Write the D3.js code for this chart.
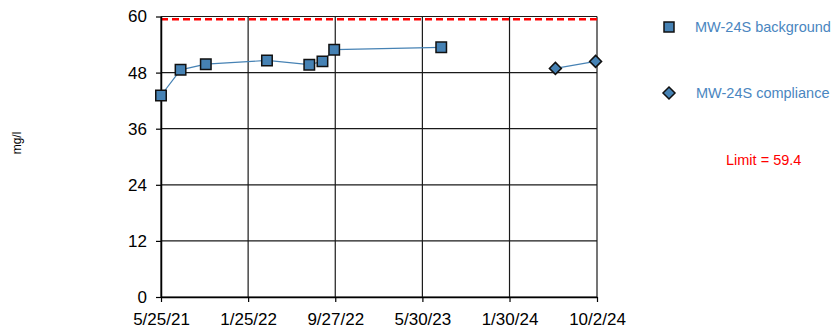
<!DOCTYPE html>
<html>
<head>
<meta charset="utf-8">
<script src="https://cdn.jsdelivr.net/npm/d3@7"></script>
<style>
  body { margin: 0; background: #fff; }
  svg { font-family: "Liberation Sans", Arial, sans-serif; }
</style>
</head>
<body>
<div id="chart"></div>
<script>
// data
var backgroundDates = ['2021-05-25', '2021-07-19', '2021-09-28', '2022-03-19', '2022-07-16', '2022-08-22', '2022-09-24', '2023-07-22'];
var backgroundValues = [43.1, 48.6, 49.8, 50.6, 49.7, 50.4, 52.9, 53.4];
var complianceDates = ['2024-06-07', '2024-09-28'];
var complianceValues = [48.9, 50.4];
var xTickDates = ['2021-05-25', '2022-01-25', '2022-09-27', '2023-05-30', '2024-01-30', '2024-10-02'];
var yTicks = [0, 12, 24, 36, 48, 60];
var limitValue = 59.4;
var seriesNames = ['MW-24S background', 'MW-24S compliance'];

var parse = d3.timeParse('%Y-%m-%d');
var fmt = function(d) { return (d.getMonth() + 1) + '/' + d.getDate() + '/' + String(d.getFullYear()).slice(2); };

var width = 836, height = 330;
var plot = { left: 161, right: 597, top: 16.5, bottom: 297 };
var blue = '#4682b4';

var svg = d3.select('#chart').append('svg')
    .attr('width', width)
    .attr('height', height);

var x = d3.scaleTime()
    .domain([parse(xTickDates[0]), parse(xTickDates[xTickDates.length - 1])])
    .range([plot.left, plot.right]);
var y = d3.scaleLinear()
    .domain([0, 60])
    .range([plot.bottom, plot.top]);

var bg = backgroundDates.map(function(d, i) { return { date: parse(d), value: backgroundValues[i] }; });
var cp = complianceDates.map(function(d, i) { return { date: parse(d), value: complianceValues[i] }; });

// gridlines
var g = svg.append('g');
g.selectAll('line.hgrid').data(yTicks).enter().append('line')
    .attr('x1', plot.left).attr('x2', plot.right)
    .attr('y1', function(d) { return y(d); }).attr('y2', function(d) { return y(d); })
    .attr('stroke', '#1a1a1a').attr('stroke-width', 1.2);
g.selectAll('line.vgrid').data(xTickDates.map(parse)).enter().append('line')
    .attr('x1', function(d) { return x(d); }).attr('x2', function(d) { return x(d); })
    .attr('y1', plot.top).attr('y2', plot.bottom)
    .attr('stroke', '#1a1a1a').attr('stroke-width', 1.2);

// limit line
svg.append('line')
    .attr('x1', plot.left).attr('x2', plot.right)
    .attr('y1', y(limitValue)).attr('y2', y(limitValue))
    .attr('stroke', '#ff0000').attr('stroke-width', 2.5)
    .attr('stroke-dasharray', '7,4');

// axes
var yAxis = svg.append('g')
    .attr('transform', 'translate(' + plot.left + ',0)')
    .call(d3.axisLeft(y).tickValues(yTicks).tickSize(5).tickSizeOuter(0).tickPadding(9));
var xAxis = svg.append('g')
    .attr('transform', 'translate(0,' + plot.bottom + ')')
    .call(d3.axisBottom(x).tickValues(xTickDates.map(parse)).tickFormat(fmt).tickSize(5).tickSizeOuter(0).tickPadding(11));
[yAxis, xAxis].forEach(function(a) {
    a.select('.domain').attr('stroke', '#000').attr('stroke-width', 1.5);
    a.selectAll('.tick line').attr('stroke', '#000').attr('stroke-width', 1.2);
    a.selectAll('text').attr('fill', '#000').style('font-size', '17px').style('font-family', '"Liberation Sans", Arial, sans-serif');
});

// y label
svg.append('text')
    .attr('transform', 'translate(21,143) rotate(-90)')
    .attr('text-anchor', 'middle')
    .style('font-size', '12px')
    .attr('fill', '#000')
    .text('mg/l');

// series lines
var line = d3.line()
    .x(function(d) { return x(d.date); })
    .y(function(d) { return y(d.value); });
[bg, cp].forEach(function(data) {
    svg.append('path').datum(data)
        .attr('fill', 'none')
        .attr('stroke', blue)
        .attr('stroke-width', 1.2)
        .attr('d', line);
});

var square = d3.symbol().type(d3.symbolSquare).size(110);
var diamond = function(cx, cy) {
    var r = 6;
    return 'M' + cx + ',' + (cy - r) + 'L' + (cx + r) + ',' + cy + 'L' + cx + ',' + (cy + r) + 'L' + (cx - r) + ',' + cy + 'Z';
};

svg.selectAll('path.bgpt').data(bg).enter().append('path')
    .attr('d', square)
    .attr('transform', function(d) { return 'translate(' + x(d.date) + ',' + y(d.value) + ')'; })
    .attr('fill', blue).attr('stroke', '#111').attr('stroke-width', 1.5);

svg.selectAll('path.cppt').data(cp).enter().append('path')
    .attr('d', function(d) { return diamond(x(d.date), y(d.value)); })
    .attr('fill', blue).attr('stroke', '#111').attr('stroke-width', 1.5);

// legend
svg.append('path')
    .attr('d', d3.symbol().type(d3.symbolSquare).size(100))
    .attr('transform', 'translate(669,27)')
    .attr('fill', blue).attr('stroke', '#111').attr('stroke-width', 1.5);
svg.append('text').attr('x', 695).attr('y', 32)
    .style('font-size', '14.5px').attr('fill', '#4a86c0')
    .text(seriesNames[0]);
svg.append('path')
    .attr('d', diamond(669, 93))
    .attr('fill', blue).attr('stroke', '#111').attr('stroke-width', 1.5);
svg.append('text').attr('x', 696).attr('y', 98)
    .style('font-size', '14.5px').attr('fill', '#4a86c0')
    .text(seriesNames[1]);
svg.append('text').attr('x', 726).attr('y', 165)
    .style('font-size', '14.5px').attr('fill', '#ff0000')
    .text('Limit = ' + limitValue);
</script>
</body>
</html>
